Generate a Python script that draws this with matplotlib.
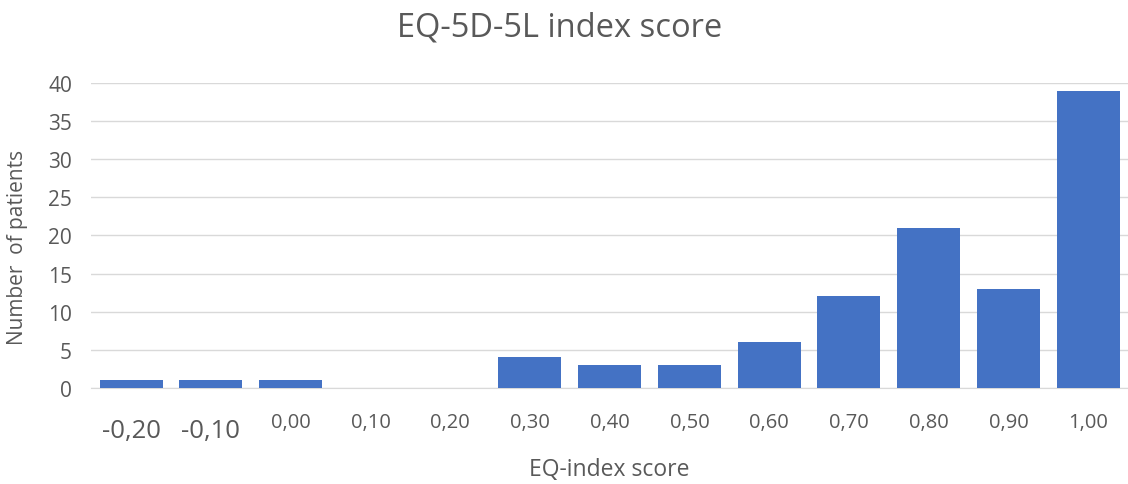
import matplotlib.pyplot as plt

### data
categories = ['-0,20', '-0,10', '0,00', '0,10', '0,20', '0,30', '0,40',
              '0,50', '0,60', '0,70', '0,80', '0,90', '1,00']
patients   = [1, 1, 1, 0, 0, 4, 3, 3, 6, 12, 21, 13, 39]
yticks     = [0, 5, 10, 15, 20, 25, 30, 35, 40]

### style
plt.rcParams['font.family'] = ['Open Sans', 'DejaVu Sans']
txtcol  = '#595959'
barcol  = '#4472C4'
gridcol = '#D9D9D9'

fig = plt.figure(figsize=(11.28, 4.85), dpi=100)
ax  = fig.add_axes([0.081, 0.198, 0.919, 0.629])

x = range(len(categories))
ax.bar(x, patients, width=0.79, color=barcol, zorder=3)

ax.set_xlim(-0.5, len(categories) - 0.5)
ax.set_ylim(0, 40)
ax.set_yticks(yticks)
ax.set_yticklabels([str(v) for v in yticks], fontsize=15, color=txtcol)
ax.set_xticks(list(x))
ax.set_xticklabels(categories, color=txtcol)
for i, lab in enumerate(ax.get_xticklabels()):
    # the first two labels are drawn larger in the original
    if i < 2:
        lab.set_fontsize(18.5)
        lab.set_y(-0.02)
    else:
        lab.set_fontsize(14.5)

ax.yaxis.grid(True, color=gridcol, linewidth=1, zorder=0)
ax.tick_params(axis='both', length=0)
ax.tick_params(axis='x', pad=17)
ax.tick_params(axis='y', pad=14)
for s in ['top', 'right', 'left']:
    ax.spines[s].set_visible(False)
ax.spines['bottom'].set_color(gridcol)

# title sits at the figure centre, not the axes centre
ax.set_title('EQ-5D-5L index score', fontsize=23.5, color=txtcol, pad=34, x=0.452)
ax.set_xlabel('EQ-index score', fontsize=16.5, color=txtcol, labelpad=10)
ax.set_ylabel('Number  of patients', fontsize=15, color=txtcol)
ax.yaxis.set_label_coords(-0.061, 0.465)

fig.savefig('out.png', dpi=100)
